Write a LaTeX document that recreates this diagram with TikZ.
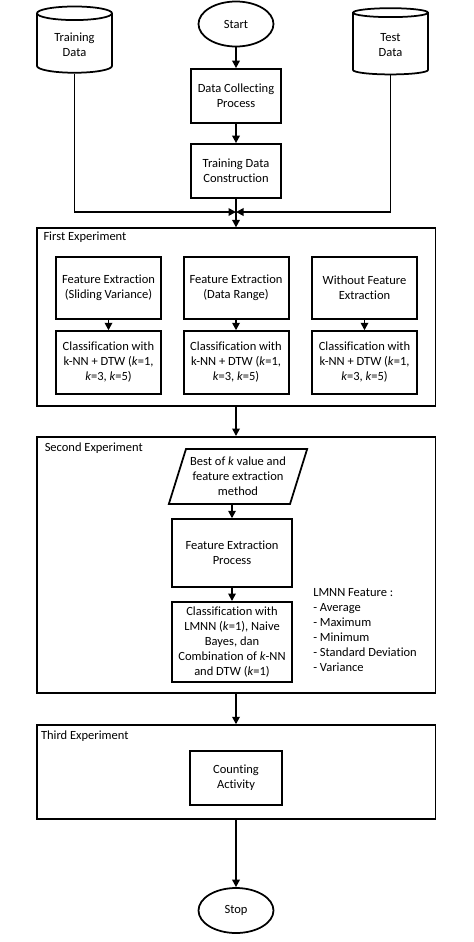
\documentclass[tikz,border=0pt]{standalone}
\usepackage{fontspec}
\setmainfont{Carlito}[Ligatures=NoCommon]
\usetikzlibrary{shapes.geometric,arrows.meta,positioning}
\tikzset{
  process/.style={draw,rectangle,line width=1.6pt,align=center,inner sep=2pt},
  terminal/.style={draw,ellipse,line width=1.4pt,minimum width=60pt,minimum height=36pt},
  database/.style={draw,cylinder,shape border rotate=90,aspect=0.28,line width=1.4pt,
    minimum width=60pt,minimum height=53pt,align=center},
  inputdata/.style={draw,trapezium,trapezium left angle=70,trapezium right angle=110,
    trapezium stretches=true,line width=1.4pt,align=center,minimum width=105pt,minimum height=44pt},
  phase/.style={draw,rectangle,line width=1.4pt,minimum width=319pt},
  phaselabel/.style={anchor=west,inner sep=0pt},
  flow/.style={->,line width=1.4pt}
}
\begin{document}
\begin{tikzpicture}[>={Triangle[length=6pt,width=6pt]},x=0.8pt,y=-0.8pt]
	\useasboundingbox (0,0) rectangle (474,942);
	%top
	\node[terminal] (start) at (236,24) {Start};
	\node[database] (train) at (74.5,45) {Training\\Data};
	\node[database] (test) at (390.5,45) {Test\\Data};
	\node[process,minimum width=72pt,minimum height=43pt] (collect) at (236,96) {Data Collecting\\Process};
	\node[process,minimum width=72pt,minimum height=43pt] (construct) at (236,171) {Training Data\\Construction};
	\coordinate (junc) at (236,212);
	%first experiment
	\node[phase,minimum height=142pt] (first) at (236,317) {};
	\node[phaselabel] (firstlbl) at ([xshift=6pt,yshift=-7.5pt]first.north west) {First Experiment};
	\node[process,minimum width=84pt,minimum height=50pt] (feslide) at (108.5,288) {Feature Extraction\\(Sliding Variance)};
	\node[process,minimum width=84pt,minimum height=50pt] (ferange) at (236,288) {Feature Extraction\\(Data Range)};
	\node[process,minimum width=84pt,minimum height=50pt] (fenone) at (364.5,288) {Without Feature\\Extraction};
	\node[process,minimum width=84pt,minimum height=50pt] (clslide) at (108.5,362.5) {Classification with\\k-NN + DTW (\textit{k}=1,\\\textit{k}=3, \textit{k}=5)};
	\node[process,minimum width=84pt,minimum height=50pt] (clrange) at (236,362.5) {Classification with\\k-NN + DTW (\textit{k}=1,\\\textit{k}=3, \textit{k}=5)};
	\node[process,minimum width=84pt,minimum height=50pt] (clnone) at (364.5,362.5) {Classification with\\k-NN + DTW (\textit{k}=1,\\\textit{k}=3, \textit{k}=5)};
	%second experiment
	\node[phase,minimum height=205pt] (second) at (236,565) {};
	\node[phaselabel] (secondlbl) at ([xshift=7pt,yshift=-10pt]second.north west) {Second Experiment};
	\node[inputdata] (best) at (238,476.5) {Best of \textit{k} value and\\feature extraction\\method};
	\node[process,minimum width=96pt,minimum height=54pt] (feproc) at (232,553) {Feature Extraction\\Process};
	\node[process,minimum width=96pt,minimum height=64pt] (cllmnn) at (232,642) {Classification with\\LMNN (\textit{k}=1), Naive\\Bayes, dan\\Combination of \textit{k}-NN\\and DTW (\textit{k}=1)};
	\node[anchor=west,align=left,inner sep=0pt] (lmnn) at (313,630.5) {LMNN Feature :\\- Average\\- Maximum\\- Minimum\\- Standard Deviation\\- Variance};
	%third experiment
	\node[phase,minimum height=75pt] (third) at (236,772) {};
	\node[phaselabel] (thirdlbl) at ([xshift=4pt,yshift=-9.5pt]third.north west) {Third Experiment};
	\node[process,minimum width=73pt,minimum height=43pt] (count) at (236,778) {Counting\\Activity};
	\node[terminal] (stop) at (236,910.5) {Stop};
	%arrows
	\draw[flow] (start) -- (collect);
	\draw[flow] (collect) -- (construct);
	\draw[flow] (construct) -- (first.north);
	\draw[flow] (train.south) |- (junc);
	\draw[flow] (test.south) |- (junc);
	\draw[flow] (feslide) -- (clslide);
	\draw[flow] (ferange) -- (clrange);
	\draw[flow] (fenone) -- (clnone);
	\draw[flow] (first.south) -- (second.north);
	\draw[flow] (best.south -| feproc.north) -- (feproc);
	\draw[flow] (feproc) -- (cllmnn);
	\draw[flow] (second.south) -- (third.north);
	\draw[flow] (third.south) -- (stop);
\end{tikzpicture}
\end{document}
